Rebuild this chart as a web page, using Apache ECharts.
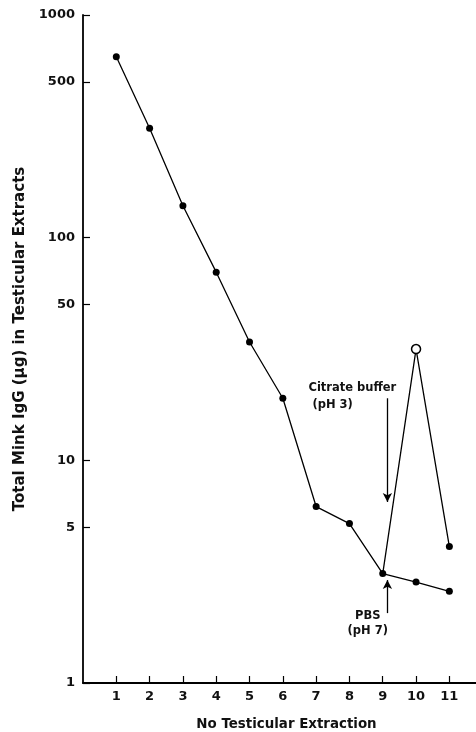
<!DOCTYPE html>
<html>
<head>
<meta charset="utf-8">
<script src="https://cdn.jsdelivr.net/npm/echarts@6/dist/echarts.min.js"></script>
<style>
html,body{margin:0;padding:0;background:#fff;}
#chart{width:476px;height:732px;}
</style>
</head>
<body>
<div id="chart"></div>
<script>
// Data
var extractions = [1, 2, 3, 4, 5, 6, 7, 8, 9, 10, 11];
var pbsIgG = [650, 310, 139, 70, 34, 19, 6.2, 5.2, 3.1, 2.84, 2.58];
var citrateX = [9, 10, 11];
var citrateIgG = [3.1, 31.6, 4.1];
var yTickValues = [1, 5, 10, 50, 100, 500, 1000];
var xTickLabels = ['1', '2', '3', '4', '5', '6', '7', '8', '9', '10', '11'];
// Annotation anchors in data coordinates
var citrateArrow = [[9.14, 19.0], [9.14, 6.5]];
var pbsArrow = [[9.14, 2.06], [9.14, 2.9]];
var citrateTextPos = [6.77, 19.4];
var pbsTextPos = [8.55, 1.85];

var FONT = 'DejaVu Sans';
var chart = echarts.init(document.getElementById('chart'));

var mainData = extractions.map(function (x, i) { return [x, pbsIgG[i]]; });
var citData = citrateX.map(function (x, i) {
  var d = { value: [x, citrateIgG[i]] };
  if (i === 0) d.symbol = 'none';
  if (i === 1) d.itemStyle = { color: '#fff', borderColor: '#000', borderWidth: 1.5 };
  if (i === 1) d.symbolSize = 9;
  return d;
});

chart.setOption({
  animation: false,
  backgroundColor: '#fff',
  grid: { left: 83, right: 0, top: 15, bottom: 49, containLabel: false, outerBoundsMode: 'none' },
  xAxis: {
    type: 'value',
    min: 0, max: 11.8, interval: 1,
    name: 'No Testicular Extraction',
    nameLocation: 'middle',
    nameGap: 35,
    nameTextStyle: { fontFamily: FONT, fontSize: 13.4, color: '#111', fontWeight: 'bold', padding: [0, 0, 0, 14] },
    axisLine: { show: true, lineStyle: { color: '#000', width: 1.8 } },
    axisTick: { show: true, inside: true, length: 7, lineStyle: { color: '#000', width: 1.2 },
      customValues: extractions },
    axisLabel: {
      fontFamily: FONT, fontSize: 13, fontWeight: 'bold', color: '#111', margin: 7,
      customValues: extractions,
      formatter: function (v) { return xTickLabels[extractions.indexOf(v)] || ''; }
    },
    splitLine: { show: false }
  },
  yAxis: {
    type: 'log',
    logBase: 10,
    min: 1, max: 1000,
    name: 'Total Mink IgG (\u03bcg) in Testicular Extracts',
    nameLocation: 'middle',
    nameGap: 54,
    nameRotate: 90,
    nameTextStyle: { fontFamily: FONT, fontSize: 15, color: '#111', fontWeight: 'bold', padding: [0, 0, 0, 20] },
    axisLine: { show: true, lineStyle: { color: '#000', width: 1.8 } },
    axisTick: { show: true, inside: true, length: 7, lineStyle: { color: '#000', width: 1.2 },
      customValues: yTickValues },
    minorTick: { show: false },
    axisLabel: { fontFamily: FONT, fontSize: 13, fontWeight: 'bold', color: '#111', margin: 8,
      customValues: yTickValues,
      formatter: function (v) { return String(Math.round(v)); } },
    splitLine: { show: false },
    minorSplitLine: { show: false }
  },
  series: [
    {
      type: 'line',
      data: mainData,
      symbol: 'circle',
      symbolSize: 7,
      lineStyle: { color: '#000', width: 1.3 },
      itemStyle: { color: '#000' },
      z: 3
    },
    {
      type: 'line',
      data: citData,
      symbol: 'circle',
      symbolSize: 7,
      lineStyle: { color: '#000', width: 1.3 },
      itemStyle: { color: '#000' },
      z: 4,
      markLine: {
        silent: true,
        symbol: ['none', 'arrow'],
        symbolSize: [7, 9],
        label: { show: false },
        lineStyle: { color: '#000', width: 1.3, type: 'solid' },
        data: [
          [{ coord: citrateArrow[0] }, { coord: citrateArrow[1] }],
          [{ coord: pbsArrow[0] }, { coord: pbsArrow[1] }]
        ]
      }
    }
  ]
});

var cp = chart.convertToPixel({ gridIndex: 0 }, citrateTextPos);
var pp = chart.convertToPixel({ gridIndex: 0 }, pbsTextPos);
chart.setOption({
  graphic: [
    { type: 'text', x: cp[0], y: cp[1], style: {
      text: 'Citrate buffer\n (pH 3)', fontFamily: FONT, fontSize: 11.5, fontWeight: 'bold',
      fill: '#111', align: 'left', verticalAlign: 'middle', lineHeight: 17 } },
    { type: 'text', x: pp[0], y: pp[1], style: {
      text: 'PBS\n(pH 7)', fontFamily: FONT, fontSize: 11.5, fontWeight: 'bold',
      fill: '#111', align: 'center', verticalAlign: 'middle', lineHeight: 15 } }
  ]
});
</script>
</body>
</html>
